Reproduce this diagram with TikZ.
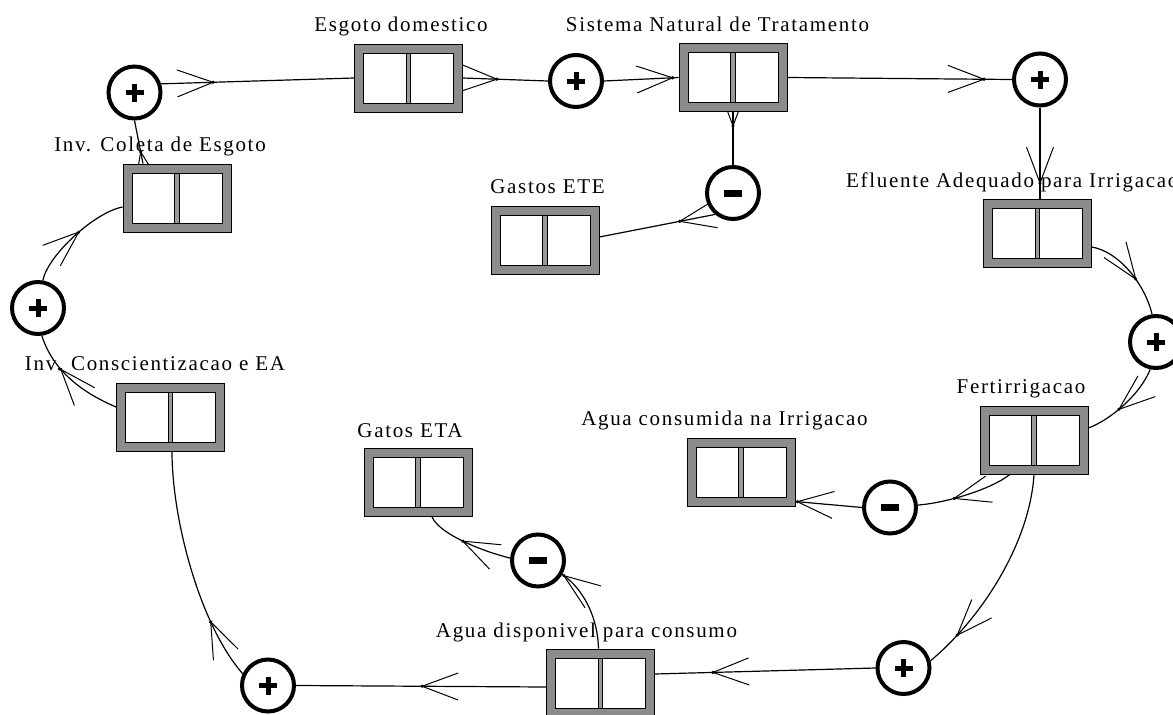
\documentclass[tikz,border=0pt]{standalone}
\usepackage{fontspec}
\newfontfamily\lblfont{Liberation Serif}[LetterSpace=8]
\usetikzlibrary{decorations.markings}
\pgfdeclarelayer{bg}
\pgfdeclarelayer{paper}
\pgfsetlayers{paper,bg,main}
\tikzset{
  stock/.style={draw=black, line width=0.8pt, fill=black!45, minimum width=108pt, minimum height=68pt, inner sep=0pt,
    path picture={
      \draw[fill=white, line width=0.8pt] ([shift={(9pt,9pt)}]path picture bounding box.south west) rectangle ([shift={(-9pt,-9pt)}]path picture bounding box.north east);
      \draw[fill=black!40, line width=0.7pt] ([shift={(-2.2pt,-9pt)}]path picture bounding box.north) rectangle ([shift={(2.2pt,9pt)}]path picture bounding box.south);
    }},
  sign/.style={circle, draw=black, line width=4pt, fill=white, minimum size=52pt, inner sep=0pt},
  plus/.style={sign, path picture={
      \draw[line width=5pt] ([xshift=-9pt]path picture bounding box.center) -- ([xshift=9pt]path picture bounding box.center);
      \draw[line width=5pt] ([yshift=-9pt]path picture bounding box.center) -- ([yshift=9pt]path picture bounding box.center);
    }},
  minus/.style={sign, path picture={
      \draw[line width=7pt] ([xshift=-9pt]path picture bounding box.center) -- ([xshift=9pt]path picture bounding box.center);
    }},
  lbl/.style={anchor=base, inner sep=0pt, font=\lblfont\fontsize{21}{25}\selectfont},
  conn/.style={draw=black, line width=1.2pt},
  arr/.style={postaction={decorate, decoration={markings, mark=at position #1 with {
      \draw[line width=1pt] (-36pt,-13.5pt) -- (0pt,0pt) -- (-36pt,13.5pt);
      \fill (0pt,0pt) circle (1.8pt);}}}}
}
\begin{document}
\begin{tikzpicture}[x=1pt,y=-1pt]
\useasboundingbox (0,0) rectangle (1173,715);
\begin{pgfonlayer}{paper}
\fill[white] (0,0) rectangle (1173,715);
\end{pgfonlayer}
% stocks
\node[stock] (Besg) at (408.5,78) {};
\node[stock] (Bsnt) at (733,77.5) {};
\node[stock] (Bcol) at (177,198) {};
\node[stock] (Bcon) at (170.5,417) {};
\node[stock] (Bete) at (545,240) {};
\node[stock] (Befl) at (1037.5,233.5) {};
\node[stock] (Bfer) at (1034,440) {};
\node[stock] (Bcns) at (741,472.5) {};
\node[stock] (Beta) at (418,482.5) {};
\node[stock] (Bdis) at (600.5,683) {};
% signs
\node[plus] (C1) at (134.5,92.5) {};
\node[plus] (C2) at (576,81) {};
\node[minus] (C3) at (733,193) {};
\node[plus] (C4) at (1040,79.5) {};
\node[plus] (C5) at (1156,342) {};
\node[minus] (C6) at (890,507.5) {};
\node[plus] (C7) at (903.5,668) {};
\node[minus] (C8) at (538,560.5) {};
\node[plus] (C9) at (268,685.5) {};
\node[plus] (C10) at (38,308) {};
% labels
\node[lbl] (Lesg) at (401,31) {Esgoto domestico};
\node[lbl] (Lsnt) at (717.5,31) {Sistema Natural de Tratamento};
\node[lbl] (Lcol) at (160,151) {Inv. Coleta de Esgoto};
\node[lbl] (Lete) at (547.5,193) {Gastos ETE};
\node[lbl, anchor=base west] (Lefl) at (846,187) {Efluente Adequado para Irrigacao};
\node[lbl] (Lcon) at (155,370) {Inv. Conscientizacao e EA};
\node[lbl] (Lfer) at (1021,393) {Fertirrigacao};
\node[lbl] (Lcns) at (724.5,425) {Agua consumida na Irrigacao};
\node[lbl] (Leta) at (410,437) {Gatos ETA};
\node[lbl] (Ldis) at (586.5,637) {Agua disponivel para consumo};
% connectors
\begin{pgfonlayer}{bg}
\draw[conn, arr=52pt] (C1.18) -- (Besg.west);
\draw[conn, arr=34pt] (Besg.east) -- (C2.west);
\draw[conn, arr=-6pt] (C2.east) -- (Bsnt.west);
\draw[conn, arr=14pt] (Bsnt.south) -- (C3.north);
\draw[conn, arr=-28pt] (Bsnt.east) -- (C4.west);
\draw[conn, arr=-16pt] (C4.south) -- (C4.south |- Befl.north);
\draw[conn, arr=-39pt] ([yshift=-13.5pt]Befl.east) .. controls (1120,252) and (1145,285) .. (C5.98);
\draw[conn, arr=-36pt] (C5.-102) .. controls (1140,395) and (1110,420) .. ([yshift=12pt]Bfer.east);
\draw[conn, arr=-37pt] ([xshift=-24pt]Bfer.south) .. controls (990,490) and (945,503) .. (C6.5);
\draw[conn, arr=-2pt] (C6.west) -- ([yshift=-29pt]Bcns.east);
\draw[conn, arr=-37pt] (Bfer.south) .. controls (1030,540) and (985,615) .. (C7.15);
\draw[conn, arr=-58pt] (C7.west) -- ([yshift=9pt]Bdis.east);
\draw[conn, arr=124pt] ([yshift=-4pt]Bdis.west) -- (C9.east);
\draw[conn, arr=-2pt] ([xshift=-2pt]Bdis.north) .. controls (598,620) and (585,590) .. (C8.-30);
\draw[conn, arr=-40pt] (C8.175) .. controls (485,552) and (440,535) .. ([xshift=14pt]Beta.south);
\draw[conn, arr=61pt] (C9.155) .. controls (200,625) and (172,520) .. ([xshift=1.5pt]Bcon.south);
\draw[conn, arr=-39pt] ([yshift=10pt]Bcon.west) .. controls (95,398) and (55,378) .. (C10.-82);
\draw[conn, arr=-51pt] (C10.80) .. controls (48,255) and (95,212) .. ([yshift=-9pt]Bcol.west);
\draw[conn, arr=12pt] ([xshift=-34pt]Bcol.north) -- (C1.south);
\draw[conn, arr=36pt] (C3.230) -- ([yshift=3pt]Bete.east);
\end{pgfonlayer}
\end{tikzpicture}
\end{document}
